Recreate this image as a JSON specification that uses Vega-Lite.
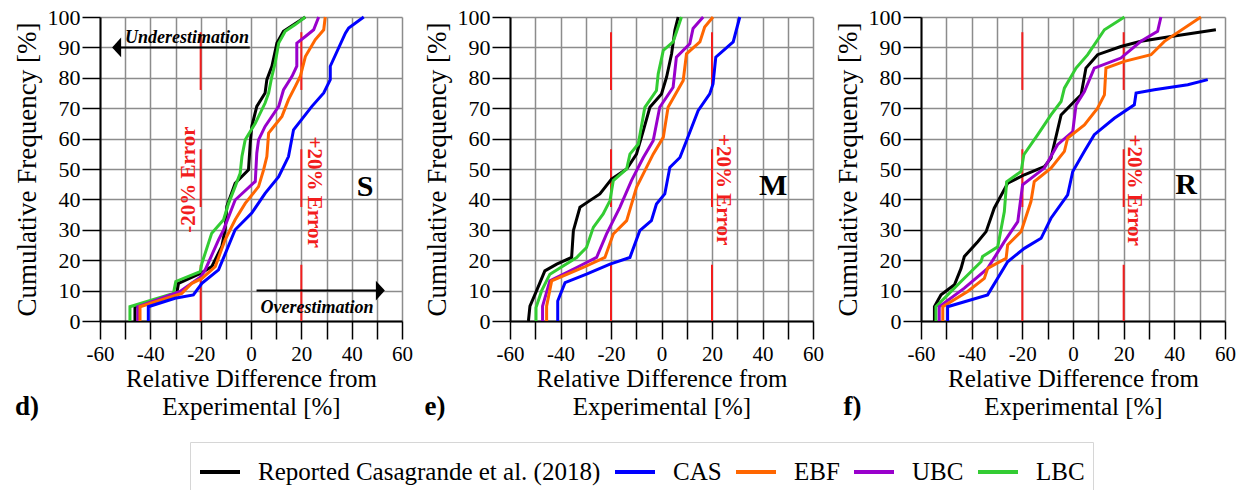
{
  "$schema": "https://vega.github.io/schema/vega-lite/v6.json",
  "padding": {"left": 12, "top": 6, "right": 0, "bottom": 0},
  "config": {
    "view": {"stroke": null}
  },
  "spacing": 108,
  "bounds": "flush",
  "datasets": {
    "err": [
      {"x": -20, "y": 0, "y2": 18.5}, {"x": -20, "y": 37.5, "y2": 56.5}, {"x": -20, "y": 76, "y2": 95},
      {"x": 20, "y": 0, "y2": 18.5}, {"x": 20, "y": 37.5, "y2": 56.5}, {"x": 20, "y": 76, "y2": 95}
    ],
    "notes": [
      {"p": "d", "k": "big", "t": "S", "x": 45.3, "y": 44},
      {"p": "e", "k": "big", "t": "M", "x": 44.2, "y": 44.5},
      {"p": "f", "k": "big", "t": "R", "x": 44.6, "y": 44.9},
      {"p": "d", "k": "errL", "t": "-20% Error", "x": -24.5, "y": 46.5},
      {"p": "d", "k": "errR", "t": "+20% Error", "x": 24.9, "y": 42.4},
      {"p": "e", "k": "errR", "t": "+20% Error", "x": 24.4, "y": 43.2},
      {"p": "f", "k": "errR", "t": "+20% Error", "x": 24.2, "y": 43},
      {"p": "d", "k": "note", "t": "Underestimation", "x": -25.4, "y": 91.5},
      {"p": "d", "k": "note", "t": "Overestimation", "x": 26.2, "y": 2.6},
      {"p": "d", "k": "tag", "t": "d)", "x": -89, "y": -31},
      {"p": "e", "k": "tag", "t": "e)", "x": -89.7, "y": -31},
      {"p": "f", "k": "tag", "t": "f)", "x": -87, "y": -31}
    ],
    "arrows": [
      {"x": -53.4, "x2": -0.5, "y": 90},
      {"x": 2.2, "x2": 51.4, "y": 10}
    ],
    "heads": [
      {"x": -53.4, "y": 90, "dir": "left"},
      {"x": 51.4, "y": 10, "dir": "right"}
    ],
    "curves": [
      {"p":"d","s":"Reported","x":-46.1,"y":0},{"p":"d","s":"Reported","x":-46.1,"y":4.7},{"p":"d","s":"Reported","x":-29.5,"y":9.1},{"p":"d","s":"Reported","x":-28.8,"y":12.4},{"p":"d","s":"Reported","x":-19.9,"y":15.7},{"p":"d","s":"Reported","x":-15.6,"y":17.9},{"p":"d","s":"Reported","x":-11.6,"y":24.5},{"p":"d","s":"Reported","x":-10.3,"y":30},{"p":"d","s":"Reported","x":-9.6,"y":37.7},{"p":"d","s":"Reported","x":-6.3,"y":45.3},{"p":"d","s":"Reported","x":-1,"y":49.7},{"p":"d","s":"Reported","x":-0.3,"y":58.5},{"p":"d","s":"Reported","x":0.3,"y":64},{"p":"d","s":"Reported","x":2.3,"y":70.6},{"p":"d","s":"Reported","x":5.6,"y":75},{"p":"d","s":"Reported","x":6.3,"y":79.4},{"p":"d","s":"Reported","x":8.3,"y":83.8},{"p":"d","s":"Reported","x":10.3,"y":91.4},{"p":"d","s":"Reported","x":12.9,"y":95.3},{"p":"d","s":"Reported","x":21.6,"y":100},
      {"p":"d","s":"LBC","x":-48.1,"y":0},{"p":"d","s":"LBC","x":-48.1,"y":4.7},{"p":"d","s":"LBC","x":-30.8,"y":9.1},{"p":"d","s":"LBC","x":-29.9,"y":13},{"p":"d","s":"LBC","x":-20.2,"y":16.2},{"p":"d","s":"LBC","x":-19.5,"y":19},{"p":"d","s":"LBC","x":-15.6,"y":28.9},{"p":"d","s":"LBC","x":-10.9,"y":33.3},{"p":"d","s":"LBC","x":-8.9,"y":38.7},{"p":"d","s":"LBC","x":-6.3,"y":44.2},{"p":"d","s":"LBC","x":-4.3,"y":48.6},{"p":"d","s":"LBC","x":-3.6,"y":54.1},{"p":"d","s":"LBC","x":-2.3,"y":59.6},{"p":"d","s":"LBC","x":1.7,"y":65},{"p":"d","s":"LBC","x":5.6,"y":71.7},{"p":"d","s":"LBC","x":7,"y":75},{"p":"d","s":"LBC","x":8.3,"y":80.5},{"p":"d","s":"LBC","x":9.6,"y":84.9},{"p":"d","s":"LBC","x":11,"y":91.4},{"p":"d","s":"LBC","x":13.6,"y":95.3},{"p":"d","s":"LBC","x":17.6,"y":97.5},{"p":"d","s":"LBC","x":21.6,"y":100},
      {"p":"d","s":"UBC","x":-45,"y":0},{"p":"d","s":"UBC","x":-45,"y":4.7},{"p":"d","s":"UBC","x":-28.2,"y":9.7},{"p":"d","s":"UBC","x":-19.9,"y":14.6},{"p":"d","s":"UBC","x":-18.2,"y":16.8},{"p":"d","s":"UBC","x":-12.9,"y":26.7},{"p":"d","s":"UBC","x":-10.9,"y":30},{"p":"d","s":"UBC","x":-6.3,"y":39.8},{"p":"d","s":"UBC","x":1.7,"y":45.9},{"p":"d","s":"UBC","x":2.3,"y":55.2},{"p":"d","s":"UBC","x":3,"y":59.6},{"p":"d","s":"UBC","x":5.6,"y":64},{"p":"d","s":"UBC","x":11,"y":70.6},{"p":"d","s":"UBC","x":12.9,"y":76},{"p":"d","s":"UBC","x":16.3,"y":80.5},{"p":"d","s":"UBC","x":18.2,"y":83.8},{"p":"d","s":"UBC","x":18.2,"y":91.4},{"p":"d","s":"UBC","x":21.6,"y":93.6},{"p":"d","s":"UBC","x":24.9,"y":95.8},{"p":"d","s":"UBC","x":26.9,"y":100},
      {"p":"d","s":"EBF","x":-44.1,"y":0},{"p":"d","s":"EBF","x":-44.1,"y":4.7},{"p":"d","s":"EBF","x":-27.5,"y":9.1},{"p":"d","s":"EBF","x":-23.5,"y":12.4},{"p":"d","s":"EBF","x":-19.5,"y":14},{"p":"d","s":"EBF","x":-14.2,"y":17.9},{"p":"d","s":"EBF","x":-10.3,"y":26.7},{"p":"d","s":"EBF","x":-6.3,"y":33.3},{"p":"d","s":"EBF","x":-2.3,"y":38.7},{"p":"d","s":"EBF","x":3,"y":44.2},{"p":"d","s":"EBF","x":5,"y":49.7},{"p":"d","s":"EBF","x":6.3,"y":54.1},{"p":"d","s":"EBF","x":7,"y":61.8},{"p":"d","s":"EBF","x":12.3,"y":67.3},{"p":"d","s":"EBF","x":14.9,"y":72.8},{"p":"d","s":"EBF","x":17.6,"y":77.2},{"p":"d","s":"EBF","x":19.6,"y":80.5},{"p":"d","s":"EBF","x":21.6,"y":87},{"p":"d","s":"EBF","x":25.5,"y":92.5},{"p":"d","s":"EBF","x":28.9,"y":95.8},{"p":"d","s":"EBF","x":29.5,"y":100},
      {"p":"d","s":"CAS","x":-40.8,"y":0},{"p":"d","s":"CAS","x":-40.8,"y":4.7},{"p":"d","s":"CAS","x":-30.2,"y":7.5},{"p":"d","s":"CAS","x":-22.9,"y":8.6},{"p":"d","s":"CAS","x":-19.5,"y":12.4},{"p":"d","s":"CAS","x":-12.9,"y":16.8},{"p":"d","s":"CAS","x":-6.3,"y":30},{"p":"d","s":"CAS","x":0.3,"y":35.5},{"p":"d","s":"CAS","x":5.6,"y":42},{"p":"d","s":"CAS","x":11,"y":47.5},{"p":"d","s":"CAS","x":14.9,"y":54.1},{"p":"d","s":"CAS","x":16.9,"y":62.9},{"p":"d","s":"CAS","x":24.2,"y":70.6},{"p":"d","s":"CAS","x":28.9,"y":75},{"p":"d","s":"CAS","x":31.5,"y":79.4},{"p":"d","s":"CAS","x":31.5,"y":83.8},{"p":"d","s":"CAS","x":37.5,"y":94.7},{"p":"d","s":"CAS","x":38.8,"y":96.4},{"p":"d","s":"CAS","x":44.8,"y":100},
      {"p":"e","s":"Reported","x":-52.7,"y":0},{"p":"e","s":"Reported","x":-52.1,"y":4.9},{"p":"e","s":"Reported","x":-49.5,"y":9.9},{"p":"e","s":"Reported","x":-46.2,"y":16.5},{"p":"e","s":"Reported","x":-41.5,"y":18.7},{"p":"e","s":"Reported","x":-35.6,"y":20.9},{"p":"e","s":"Reported","x":-34.9,"y":29.7},{"p":"e","s":"Reported","x":-32.3,"y":37.4},{"p":"e","s":"Reported","x":-28.4,"y":39.6},{"p":"e","s":"Reported","x":-24.4,"y":41.8},{"p":"e","s":"Reported","x":-19.8,"y":46.7},{"p":"e","s":"Reported","x":-13.8,"y":50},{"p":"e","s":"Reported","x":-9.9,"y":54.9},{"p":"e","s":"Reported","x":-7.2,"y":62.6},{"p":"e","s":"Reported","x":-4.6,"y":70.3},{"p":"e","s":"Reported","x":0,"y":74.7},{"p":"e","s":"Reported","x":2,"y":80.2},{"p":"e","s":"Reported","x":4,"y":87.9},{"p":"e","s":"Reported","x":5.3,"y":95.6},{"p":"e","s":"Reported","x":6.6,"y":100},
      {"p":"e","s":"LBC","x":-49.7,"y":0},{"p":"e","s":"LBC","x":-49.7,"y":4.4},{"p":"e","s":"LBC","x":-47.5,"y":9.9},{"p":"e","s":"LBC","x":-44.2,"y":15.4},{"p":"e","s":"LBC","x":-33.6,"y":20.9},{"p":"e","s":"LBC","x":-29.7,"y":24.2},{"p":"e","s":"LBC","x":-27,"y":30.8},{"p":"e","s":"LBC","x":-23.1,"y":35.2},{"p":"e","s":"LBC","x":-20.4,"y":39.6},{"p":"e","s":"LBC","x":-19.1,"y":46.2},{"p":"e","s":"LBC","x":-13.8,"y":50},{"p":"e","s":"LBC","x":-12.5,"y":54.9},{"p":"e","s":"LBC","x":-9.2,"y":58.2},{"p":"e","s":"LBC","x":-6.6,"y":70.3},{"p":"e","s":"LBC","x":-2,"y":75.8},{"p":"e","s":"LBC","x":-1.3,"y":81.3},{"p":"e","s":"LBC","x":0.7,"y":89},{"p":"e","s":"LBC","x":4.6,"y":91.8},{"p":"e","s":"LBC","x":7.9,"y":100},
      {"p":"e","s":"UBC","x":-47.1,"y":0},{"p":"e","s":"UBC","x":-47.1,"y":4.9},{"p":"e","s":"UBC","x":-44.2,"y":13.2},{"p":"e","s":"UBC","x":-33.6,"y":17.6},{"p":"e","s":"UBC","x":-25.7,"y":20.9},{"p":"e","s":"UBC","x":-21.8,"y":28.6},{"p":"e","s":"UBC","x":-16.5,"y":37.4},{"p":"e","s":"UBC","x":-11.9,"y":46.2},{"p":"e","s":"UBC","x":-7.2,"y":53.8},{"p":"e","s":"UBC","x":-3.3,"y":59.3},{"p":"e","s":"UBC","x":-0.7,"y":70.3},{"p":"e","s":"UBC","x":4.6,"y":76.9},{"p":"e","s":"UBC","x":5.9,"y":86.8},{"p":"e","s":"UBC","x":11.2,"y":91.2},{"p":"e","s":"UBC","x":12.5,"y":96.2},{"p":"e","s":"UBC","x":16.5,"y":100},
      {"p":"e","s":"EBF","x":-45.5,"y":0},{"p":"e","s":"EBF","x":-45.5,"y":4.9},{"p":"e","s":"EBF","x":-43.5,"y":13.2},{"p":"e","s":"EBF","x":-31,"y":17.6},{"p":"e","s":"EBF","x":-22.4,"y":20.9},{"p":"e","s":"EBF","x":-19.1,"y":28.6},{"p":"e","s":"EBF","x":-13.8,"y":33},{"p":"e","s":"EBF","x":-9.9,"y":44},{"p":"e","s":"EBF","x":-3.3,"y":54.9},{"p":"e","s":"EBF","x":0.7,"y":60.4},{"p":"e","s":"EBF","x":2.6,"y":70.3},{"p":"e","s":"EBF","x":8.6,"y":79.1},{"p":"e","s":"EBF","x":9.9,"y":87.9},{"p":"e","s":"EBF","x":15.2,"y":91.8},{"p":"e","s":"EBF","x":17.1,"y":96.7},{"p":"e","s":"EBF","x":20.4,"y":100},
      {"p":"e","s":"CAS","x":-41.1,"y":0},{"p":"e","s":"CAS","x":-41.1,"y":6.6},{"p":"e","s":"CAS","x":-38.2,"y":12.6},{"p":"e","s":"CAS","x":-29.7,"y":15.4},{"p":"e","s":"CAS","x":-20.4,"y":18.7},{"p":"e","s":"CAS","x":-12.5,"y":20.9},{"p":"e","s":"CAS","x":-8.6,"y":29.7},{"p":"e","s":"CAS","x":-4,"y":33},{"p":"e","s":"CAS","x":-2,"y":38.5},{"p":"e","s":"CAS","x":1.3,"y":41.8},{"p":"e","s":"CAS","x":3.3,"y":50.5},{"p":"e","s":"CAS","x":7.3,"y":53.8},{"p":"e","s":"CAS","x":9.9,"y":59.3},{"p":"e","s":"CAS","x":14.5,"y":69.2},{"p":"e","s":"CAS","x":19.1,"y":74.7},{"p":"e","s":"CAS","x":20.4,"y":78},{"p":"e","s":"CAS","x":21.5,"y":86.8},{"p":"e","s":"CAS","x":28.4,"y":91.8},{"p":"e","s":"CAS","x":31,"y":100},
      {"p":"f","s":"Reported","x":-54.7,"y":0},{"p":"f","s":"Reported","x":-54.7,"y":4.7},{"p":"f","s":"Reported","x":-52.1,"y":8.6},{"p":"f","s":"Reported","x":-46.8,"y":11.9},{"p":"f","s":"Reported","x":-44.2,"y":17.3},{"p":"f","s":"Reported","x":-42.9,"y":21.2},{"p":"f","s":"Reported","x":-37.6,"y":26.1},{"p":"f","s":"Reported","x":-34.3,"y":29.4},{"p":"f","s":"Reported","x":-31.1,"y":37.1},{"p":"f","s":"Reported","x":-25.8,"y":45.3},{"p":"f","s":"Reported","x":-19.2,"y":48.1},{"p":"f","s":"Reported","x":-11.3,"y":50.8},{"p":"f","s":"Reported","x":-8.7,"y":53.6},{"p":"f","s":"Reported","x":-4.7,"y":67.8},{"p":"f","s":"Reported","x":0.5,"y":72.2},{"p":"f","s":"Reported","x":3.2,"y":74.4},{"p":"f","s":"Reported","x":5.1,"y":83.2},{"p":"f","s":"Reported","x":9.7,"y":87.6},{"p":"f","s":"Reported","x":18.9,"y":90.3},{"p":"f","s":"Reported","x":26.8,"y":92},{"p":"f","s":"Reported","x":38.7,"y":93.6},{"p":"f","s":"Reported","x":56.4,"y":95.8},
      {"p":"f","s":"LBC","x":-54.1,"y":0},{"p":"f","s":"LBC","x":-54.1,"y":4.7},{"p":"f","s":"LBC","x":-44.2,"y":13},{"p":"f","s":"LBC","x":-36.3,"y":19.5},{"p":"f","s":"LBC","x":-35.7,"y":21.2},{"p":"f","s":"LBC","x":-29.7,"y":24.4},{"p":"f","s":"LBC","x":-27.1,"y":36},{"p":"f","s":"LBC","x":-26.2,"y":45.8},{"p":"f","s":"LBC","x":-20.5,"y":49.2},{"p":"f","s":"LBC","x":-19.4,"y":54.7},{"p":"f","s":"LBC","x":-13.9,"y":61.3},{"p":"f","s":"LBC","x":-8.7,"y":67.8},{"p":"f","s":"LBC","x":-4.7,"y":72.2},{"p":"f","s":"LBC","x":-3.4,"y":76.6},{"p":"f","s":"LBC","x":1.2,"y":83.2},{"p":"f","s":"LBC","x":5.8,"y":87.6},{"p":"f","s":"LBC","x":12.4,"y":95.8},{"p":"f","s":"LBC","x":20.3,"y":100},
      {"p":"f","s":"UBC","x":-52.8,"y":0},{"p":"f","s":"UBC","x":-52.8,"y":4.7},{"p":"f","s":"UBC","x":-42.9,"y":10.8},{"p":"f","s":"UBC","x":-33.7,"y":17.3},{"p":"f","s":"UBC","x":-27.1,"y":26.1},{"p":"f","s":"UBC","x":-21.8,"y":32.7},{"p":"f","s":"UBC","x":-19.9,"y":44.8},{"p":"f","s":"UBC","x":-11.3,"y":50.3},{"p":"f","s":"UBC","x":-6.1,"y":58},{"p":"f","s":"UBC","x":-0.1,"y":62.3},{"p":"f","s":"UBC","x":1.2,"y":71.1},{"p":"f","s":"UBC","x":4.5,"y":75.5},{"p":"f","s":"UBC","x":8.4,"y":83.2},{"p":"f","s":"UBC","x":18.9,"y":86.5},{"p":"f","s":"UBC","x":26.8,"y":92},{"p":"f","s":"UBC","x":33.4,"y":95.3},{"p":"f","s":"UBC","x":34.7,"y":100},
      {"p":"f","s":"EBF","x":-51.4,"y":0},{"p":"f","s":"EBF","x":-51.4,"y":4.7},{"p":"f","s":"EBF","x":-41.6,"y":9.7},{"p":"f","s":"EBF","x":-35,"y":14},{"p":"f","s":"EBF","x":-33.7,"y":17.3},{"p":"f","s":"EBF","x":-26.4,"y":20.6},{"p":"f","s":"EBF","x":-25.8,"y":25},{"p":"f","s":"EBF","x":-20.5,"y":29.4},{"p":"f","s":"EBF","x":-16.6,"y":39.3},{"p":"f","s":"EBF","x":-15.3,"y":45.9},{"p":"f","s":"EBF","x":-8.7,"y":50.3},{"p":"f","s":"EBF","x":-3.4,"y":55.8},{"p":"f","s":"EBF","x":-2.1,"y":60.2},{"p":"f","s":"EBF","x":4.5,"y":64.5},{"p":"f","s":"EBF","x":9.7,"y":70},{"p":"f","s":"EBF","x":12.4,"y":74.4},{"p":"f","s":"EBF","x":13,"y":83.2},{"p":"f","s":"EBF","x":20.3,"y":85.4},{"p":"f","s":"EBF","x":30.8,"y":87.6},{"p":"f","s":"EBF","x":36.1,"y":92},{"p":"f","s":"EBF","x":50.5,"y":100},
      {"p":"f","s":"CAS","x":-49.5,"y":0},{"p":"f","s":"CAS","x":-49.5,"y":4.7},{"p":"f","s":"CAS","x":-33.7,"y":8.6},{"p":"f","s":"CAS","x":-25.8,"y":19.5},{"p":"f","s":"CAS","x":-19.2,"y":23.9},{"p":"f","s":"CAS","x":-12.6,"y":27.2},{"p":"f","s":"CAS","x":-8.7,"y":33.8},{"p":"f","s":"CAS","x":-2.1,"y":41.5},{"p":"f","s":"CAS","x":-0.1,"y":49.2},{"p":"f","s":"CAS","x":4.5,"y":55.8},{"p":"f","s":"CAS","x":8.4,"y":61.3},{"p":"f","s":"CAS","x":16.3,"y":66.7},{"p":"f","s":"CAS","x":24.2,"y":71.1},{"p":"f","s":"CAS","x":24.9,"y":75},{"p":"f","s":"CAS","x":32.1,"y":76.1},{"p":"f","s":"CAS","x":45.3,"y":77.7},{"p":"f","s":"CAS","x":53.2,"y":79.4}
    ]
  },
  "hconcat": [
    {
      "width": 302, "height": 304,
      "encoding": {
        "x": {"field": "x", "type": "quantitative", "scale": {"domain": [-60, 60], "nice": false},
              "axis": {"title": ["Relative Difference from", "Experimental [%]"], "values": [-60,-50,-40,-30,-20,-10,0,10,20,30,40,50,60], "labelExpr": "datum.value % 20 === 0 ? '' + datum.value : ''", "tickSize": 18, "labelPadding": 4, "labelFontSize": 21, "titleFontSize": 25, "titlePadding": 2, "titleLineHeight": 28, "labelFont": "Liberation Serif", "titleFont": "Liberation Serif", "titleFontWeight": "normal", "labelOverlap": false, "labelFlush": false, "labelColor": "#000000", "titleColor": "#000000", "domainColor": "#000000", "domainWidth": 2, "tickColor": "#000000", "tickWidth": 1.5, "gridColor": "#8c8c8c", "gridWidth": 1.5, "gridOpacity": 1}},
        "y": {"field": "y", "type": "quantitative", "scale": {"domain": [0, 100], "nice": false},
              "axis": {"title": "Cumulative Frequency [%]", "values": [0,10,20,30,40,50,60,70,80,90,100], "tickSize": 18, "labelPadding": 2, "labelFontSize": 22, "titleFontSize": 27, "titlePadding": 6, "labelFont": "Liberation Serif", "titleFont": "Liberation Serif", "titleFontWeight": "normal", "labelOverlap": false, "labelFlush": false, "labelColor": "#000000", "titleColor": "#000000", "domainColor": "#000000", "domainWidth": 2, "tickColor": "#000000", "tickWidth": 1.5, "gridColor": "#8c8c8c", "gridWidth": 1.5, "gridOpacity": 1}}
      },
      "layer": [
        {"data": {"name": "err"}, "mark": {"type": "rule", "color": "#f21d1d", "strokeWidth": 2}, "encoding": {"y2": {"field": "y2"}}},
        {"data": {"name": "arrows"}, "mark": {"type": "rule", "color": "#000000", "strokeWidth": 2}, "encoding": {"x2": {"field": "x2"}}},
        {"data": {"name": "heads"}, "transform": [{"filter": "datum.dir === 'left'"}],
         "mark": {"type": "point", "shape": "M-1,0L1,-2.2L1,2.2Z", "filled": true, "color": "#000000", "opacity": 1, "size": 81}},
        {"data": {"name": "heads"}, "transform": [{"filter": "datum.dir === 'right'"}],
         "mark": {"type": "point", "shape": "M1,0L-1,-2.2L-1,2.2Z", "filled": true, "color": "#000000", "opacity": 1, "size": 81}},
        {"data": {"name": "curves"}, "transform": [{"filter": "datum.p === 'd'"}],
         "mark": {"type": "line", "strokeWidth": 3},
         "encoding": {
           "order": {"field": "y"},
           "color": {"field": "s", "type": "nominal",
             "scale": {"domain": ["Reported", "CAS", "EBF", "UBC", "LBC"], "range": ["#000000", "#0000ff", "#ff6600", "#9900cc", "#33cc33"]},
             "legend": {"title": null, "orient": "none", "legendX": 90, "legendY": 425, "direction": "horizontal", "labelExpr": "datum.label === 'Reported' ? 'Reported Casagrande et al. (2018)' : datum.label", "labelFont": "Liberation Serif", "labelFontSize": 25, "labelColor": "#000000", "labelLimit": 600, "symbolType": "stroke", "symbolStrokeWidth": 4, "symbolSize": 1600, "strokeColor": "#d6d6d6", "padding": 8, "columnPadding": 6, "labelOffset": 16}}}},
        {"data": {"name": "notes"}, "transform": [{"filter": "datum.p === 'd' && datum.k === 'big'"}],
         "mark": {"type": "text", "font": "Liberation Serif", "fontSize": 30, "fontWeight": "bold", "color": "#000000"},
         "encoding": {"text": {"field": "t"}}},
        {"data": {"name": "notes"}, "transform": [{"filter": "datum.p === 'd' && datum.k === 'errL'"}],
         "mark": {"type": "text", "font": "Liberation Serif", "fontSize": 21, "fontWeight": "bold", "color": "#f21d1d", "angle": 270},
         "encoding": {"text": {"field": "t"}}},
        {"data": {"name": "notes"}, "transform": [{"filter": "datum.p === 'd' && datum.k === 'errR'"}],
         "mark": {"type": "text", "font": "Liberation Serif", "fontSize": 21, "fontWeight": "bold", "color": "#f21d1d", "angle": 90},
         "encoding": {"text": {"field": "t"}}},
        {"data": {"name": "notes"}, "transform": [{"filter": "datum.p === 'd' && datum.k === 'note'"}],
         "mark": {"type": "text", "font": "Liberation Serif", "fontSize": 18, "fontWeight": "bold", "fontStyle": "italic", "color": "#000000", "baseline": "alphabetic"},
         "encoding": {"text": {"field": "t"}}},
        {"data": {"name": "notes"}, "transform": [{"filter": "datum.p === 'd' && datum.k === 'tag'"}],
         "mark": {"type": "text", "font": "Liberation Serif", "fontSize": 27, "fontWeight": "bold", "color": "#000000", "baseline": "alphabetic"},
         "encoding": {"text": {"field": "t"}}}
      ]
    },
    {
      "width": 303, "height": 304,
      "encoding": {
        "x": {"field": "x", "type": "quantitative", "scale": {"domain": [-60, 60], "nice": false},
              "axis": {"title": ["Relative Difference from", "Experimental [%]"], "values": [-60,-50,-40,-30,-20,-10,0,10,20,30,40,50,60], "labelExpr": "datum.value % 20 === 0 ? '' + datum.value : ''", "tickSize": 18, "labelPadding": 4, "labelFontSize": 21, "titleFontSize": 25, "titlePadding": 2, "titleLineHeight": 28, "labelFont": "Liberation Serif", "titleFont": "Liberation Serif", "titleFontWeight": "normal", "labelOverlap": false, "labelFlush": false, "labelColor": "#000000", "titleColor": "#000000", "domainColor": "#000000", "domainWidth": 2, "tickColor": "#000000", "tickWidth": 1.5, "gridColor": "#8c8c8c", "gridWidth": 1.5, "gridOpacity": 1}},
        "y": {"field": "y", "type": "quantitative", "scale": {"domain": [0, 100], "nice": false},
              "axis": {"title": "Cumulative Frequency [%]", "values": [0,10,20,30,40,50,60,70,80,90,100], "tickSize": 18, "labelPadding": 2, "labelFontSize": 22, "titleFontSize": 27, "titlePadding": 6, "labelFont": "Liberation Serif", "titleFont": "Liberation Serif", "titleFontWeight": "normal", "labelOverlap": false, "labelFlush": false, "labelColor": "#000000", "titleColor": "#000000", "domainColor": "#000000", "domainWidth": 2, "tickColor": "#000000", "tickWidth": 1.5, "gridColor": "#8c8c8c", "gridWidth": 1.5, "gridOpacity": 1}}
      },
      "layer": [
        {"data": {"name": "err"}, "mark": {"type": "rule", "color": "#f21d1d", "strokeWidth": 2}, "encoding": {"y2": {"field": "y2"}}},
        {"data": {"name": "curves"}, "transform": [{"filter": "datum.p === 'e'"}],
         "mark": {"type": "line", "strokeWidth": 3},
         "encoding": {
           "order": {"field": "y"},
           "color": {"field": "s", "type": "nominal",
             "scale": {"domain": ["Reported", "CAS", "EBF", "UBC", "LBC"], "range": ["#000000", "#0000ff", "#ff6600", "#9900cc", "#33cc33"]},
             "legend": {"title": null, "orient": "none", "legendX": 90, "legendY": 425, "direction": "horizontal", "labelExpr": "datum.label === 'Reported' ? 'Reported Casagrande et al. (2018)' : datum.label", "labelFont": "Liberation Serif", "labelFontSize": 25, "labelColor": "#000000", "labelLimit": 600, "symbolType": "stroke", "symbolStrokeWidth": 4, "symbolSize": 1600, "strokeColor": "#d6d6d6", "padding": 8, "columnPadding": 6, "labelOffset": 16}}}},
        {"data": {"name": "notes"}, "transform": [{"filter": "datum.p === 'e' && datum.k === 'big'"}],
         "mark": {"type": "text", "font": "Liberation Serif", "fontSize": 30, "fontWeight": "bold", "color": "#000000"},
         "encoding": {"text": {"field": "t"}}},
        {"data": {"name": "notes"}, "transform": [{"filter": "datum.p === 'e' && datum.k === 'errR'"}],
         "mark": {"type": "text", "font": "Liberation Serif", "fontSize": 21, "fontWeight": "bold", "color": "#f21d1d", "angle": 90},
         "encoding": {"text": {"field": "t"}}},
        {"data": {"name": "notes"}, "transform": [{"filter": "datum.p === 'e' && datum.k === 'tag'"}],
         "mark": {"type": "text", "font": "Liberation Serif", "fontSize": 27, "fontWeight": "bold", "color": "#000000", "baseline": "alphabetic"},
         "encoding": {"text": {"field": "t"}}}
      ]
    },
    {
      "width": 304, "height": 304,
      "encoding": {
        "x": {"field": "x", "type": "quantitative", "scale": {"domain": [-60, 60], "nice": false},
              "axis": {"title": ["Relative Difference from", "Experimental [%]"], "values": [-60,-50,-40,-30,-20,-10,0,10,20,30,40,50,60], "labelExpr": "datum.value % 20 === 0 ? '' + datum.value : ''", "tickSize": 18, "labelPadding": 4, "labelFontSize": 21, "titleFontSize": 25, "titlePadding": 2, "titleLineHeight": 28, "labelFont": "Liberation Serif", "titleFont": "Liberation Serif", "titleFontWeight": "normal", "labelOverlap": false, "labelFlush": false, "labelColor": "#000000", "titleColor": "#000000", "domainColor": "#000000", "domainWidth": 2, "tickColor": "#000000", "tickWidth": 1.5, "gridColor": "#8c8c8c", "gridWidth": 1.5, "gridOpacity": 1}},
        "y": {"field": "y", "type": "quantitative", "scale": {"domain": [0, 100], "nice": false},
              "axis": {"title": "Cumulative Frequency [%]", "values": [0,10,20,30,40,50,60,70,80,90,100], "tickSize": 18, "labelPadding": 2, "labelFontSize": 22, "titleFontSize": 27, "titlePadding": 6, "labelFont": "Liberation Serif", "titleFont": "Liberation Serif", "titleFontWeight": "normal", "labelOverlap": false, "labelFlush": false, "labelColor": "#000000", "titleColor": "#000000", "domainColor": "#000000", "domainWidth": 2, "tickColor": "#000000", "tickWidth": 1.5, "gridColor": "#8c8c8c", "gridWidth": 1.5, "gridOpacity": 1}}
      },
      "layer": [
        {"data": {"name": "err"}, "mark": {"type": "rule", "color": "#f21d1d", "strokeWidth": 2}, "encoding": {"y2": {"field": "y2"}}},
        {"data": {"name": "curves"}, "transform": [{"filter": "datum.p === 'f'"}],
         "mark": {"type": "line", "strokeWidth": 3},
         "encoding": {
           "order": {"field": "y"},
           "color": {"field": "s", "type": "nominal",
             "scale": {"domain": ["Reported", "CAS", "EBF", "UBC", "LBC"], "range": ["#000000", "#0000ff", "#ff6600", "#9900cc", "#33cc33"]},
             "legend": {"title": null, "orient": "none", "legendX": 90, "legendY": 425, "direction": "horizontal", "labelExpr": "datum.label === 'Reported' ? 'Reported Casagrande et al. (2018)' : datum.label", "labelFont": "Liberation Serif", "labelFontSize": 25, "labelColor": "#000000", "labelLimit": 600, "symbolType": "stroke", "symbolStrokeWidth": 4, "symbolSize": 1600, "strokeColor": "#d6d6d6", "padding": 8, "columnPadding": 6, "labelOffset": 16}}}},
        {"data": {"name": "notes"}, "transform": [{"filter": "datum.p === 'f' && datum.k === 'big'"}],
         "mark": {"type": "text", "font": "Liberation Serif", "fontSize": 30, "fontWeight": "bold", "color": "#000000"},
         "encoding": {"text": {"field": "t"}}},
        {"data": {"name": "notes"}, "transform": [{"filter": "datum.p === 'f' && datum.k === 'errR'"}],
         "mark": {"type": "text", "font": "Liberation Serif", "fontSize": 21, "fontWeight": "bold", "color": "#f21d1d", "angle": 90},
         "encoding": {"text": {"field": "t"}}},
        {"data": {"name": "notes"}, "transform": [{"filter": "datum.p === 'f' && datum.k === 'tag'"}],
         "mark": {"type": "text", "font": "Liberation Serif", "fontSize": 27, "fontWeight": "bold", "color": "#000000", "baseline": "alphabetic"},
         "encoding": {"text": {"field": "t"}}}
      ]
    }
  ]
}
